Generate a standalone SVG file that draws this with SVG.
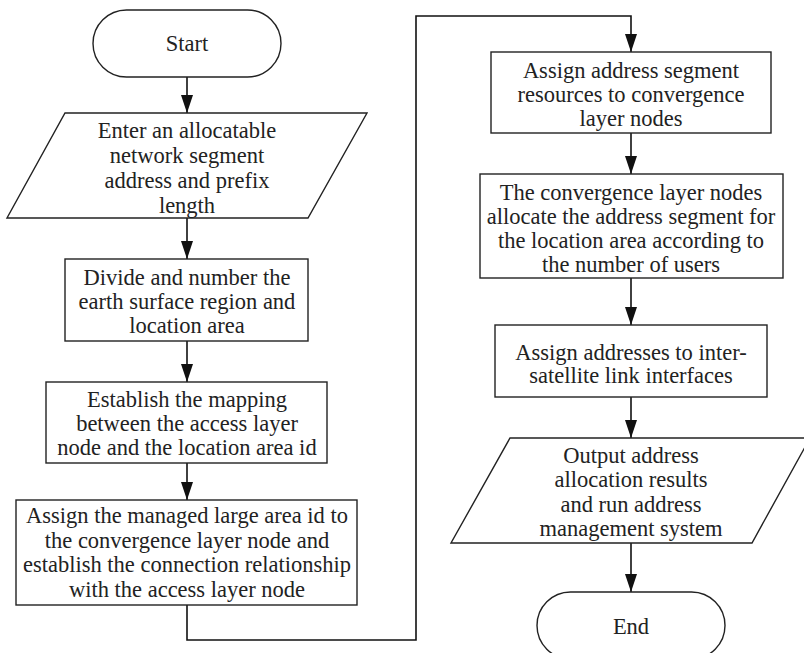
<svg xmlns="http://www.w3.org/2000/svg" width="804" height="653" viewBox="0 0 804 653">
<defs>
<style>
.n{fill:#fff;stroke:#222;stroke-width:1.4}
.t{font-family:'Liberation Serif','Times New Roman',serif;font-size:22.5px;fill:#222;text-anchor:middle}
.c{fill:none;stroke:#111;stroke-width:1.6}
</style>
<marker id="ah" viewBox="0 0 18 12" refX="18" refY="6" markerWidth="18" markerHeight="12" markerUnits="userSpaceOnUse" orient="auto">
<path d="M0,0 L18,6 L0,12 Z" fill="#111"/>
</marker>
</defs>
<rect width="804" height="653" fill="#fff"/>
<g id="connectors">
<line class="c" x1="187" y1="77" x2="187" y2="113" marker-end="url(#ah)"/>
<line class="c" x1="187" y1="218" x2="187" y2="259" marker-end="url(#ah)"/>
<line class="c" x1="187" y1="341" x2="187" y2="382" marker-end="url(#ah)"/>
<line class="c" x1="187" y1="463" x2="187" y2="500" marker-end="url(#ah)"/>
<polyline class="c" points="187,605 187,640 416,640 416,16 631,16 631,52" marker-end="url(#ah)"/>
<line class="c" x1="631" y1="133" x2="631" y2="174" marker-end="url(#ah)"/>
<line class="c" x1="631" y1="278" x2="631" y2="325" marker-end="url(#ah)"/>
<line class="c" x1="631" y1="397" x2="631" y2="438" marker-end="url(#ah)"/>
<line class="c" x1="631" y1="543" x2="631" y2="592" marker-end="url(#ah)"/>
</g>
<g id="start">
<rect class="n" x="93" y="10" width="188" height="67" rx="33.5" ry="33.5"/>
<text class="t" x="187" y="51">Start</text>
</g>
<g id="input">
<polygon class="n" points="65,113 367,113 308,218 7,218"/>
<text class="t" x="187" y="137.5">Enter an allocatable</text>
<text class="t" x="187" y="162.5">network segment</text>
<text class="t" x="187" y="187.5">address and prefix</text>
<text class="t" x="187" y="212.5">length</text>
</g>
<g id="divide">
<rect class="n" x="65" y="259" width="243" height="82"/>
<text class="t" x="187" y="284.5">Divide and number the</text>
<text class="t" x="187" y="308.5">earth surface region and</text>
<text class="t" x="187" y="332.5">location area</text>
</g>
<g id="mapping">
<rect class="n" x="46" y="382" width="281" height="81"/>
<text class="t" x="187" y="406.5">Establish the mapping</text>
<text class="t" x="187" y="430.5">between the access layer</text>
<text class="t" x="187" y="455">node and the location area id</text>
</g>
<g id="assign-large">
<rect class="n" x="16" y="500" width="341" height="105"/>
<text class="t" x="187" y="523">Assign the managed large area id to</text>
<text class="t" x="187" y="547.5">the convergence layer node and</text>
<text class="t" x="187" y="572">establish the connection relationship</text>
<text class="t" x="187" y="596.5">with the access layer node</text>
</g>
<g id="assign-segment">
<rect class="n" x="491" y="52" width="280" height="81"/>
<text class="t" x="631" y="77.5">Assign address segment</text>
<text class="t" x="631" y="101.5">resources to convergence</text>
<text class="t" x="631" y="125.5">layer nodes</text>
</g>
<g id="allocate">
<rect class="n" x="480" y="174" width="303" height="104"/>
<text class="t" x="631" y="199.5">The convergence layer nodes</text>
<text class="t" x="631" y="223.5">allocate the address segment for</text>
<text class="t" x="631" y="247.5">the location area according to</text>
<text class="t" x="631" y="271.5">the number of users</text>
</g>
<g id="isl">
<rect class="n" x="495" y="325" width="272" height="72"/>
<text class="t" x="631" y="359.5">Assign addresses to inter-</text>
<text class="t" x="631" y="382.5">satellite link interfaces</text>
</g>
<g id="output">
<polygon class="n" points="510,438 810,438 752,543 451,543"/>
<text class="t" x="631" y="462.5">Output address</text>
<text class="t" x="631" y="486.5">allocation results</text>
<text class="t" x="631" y="511.5">and run address</text>
<text class="t" x="631" y="535.5">management system</text>
</g>
<g id="end">
<rect class="n" x="537" y="592" width="188" height="67" rx="33.5" ry="33.5"/>
<text class="t" x="631" y="634">End</text>
</g>
</svg>
